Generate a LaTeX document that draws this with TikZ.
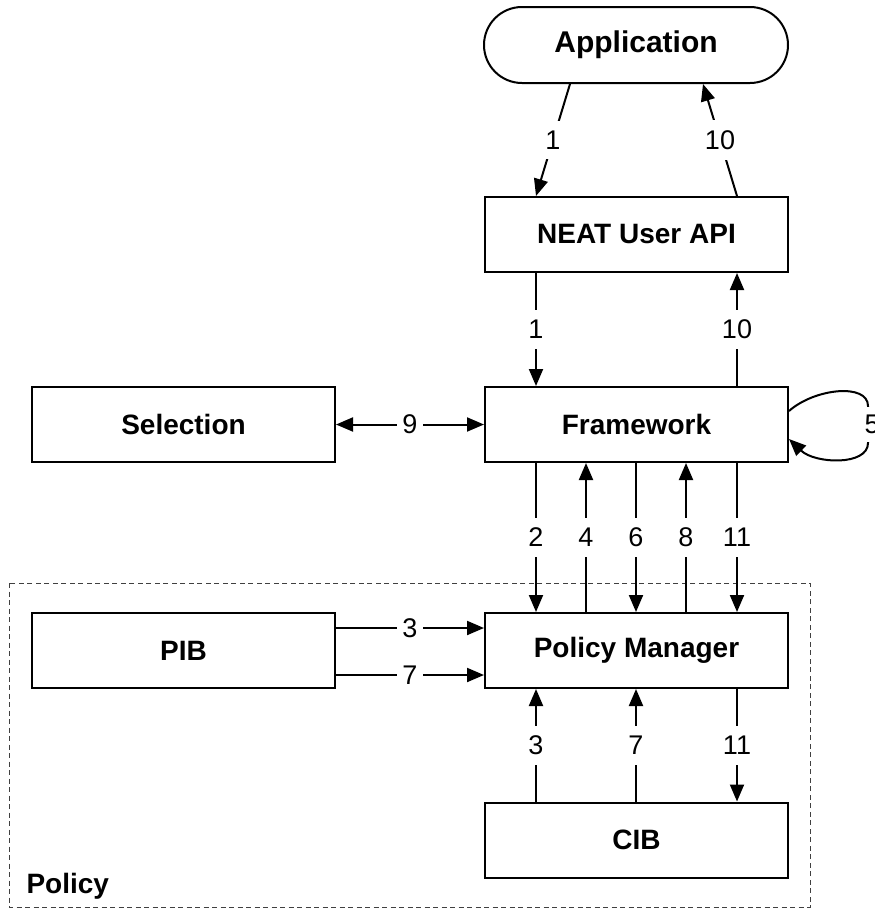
\documentclass[tikz,border=0pt]{standalone}
\usepackage{fontspec}
\setmainfont{Liberation Sans}
\usetikzlibrary{arrows.meta,shapes.misc}
\begin{document}
\begin{tikzpicture}[x=1pt,y=-1pt,
  box/.style={draw,line width=2pt,minimum width=303pt,minimum height=75pt,inner sep=0pt,font=\fontsize{28}{32}\selectfont\bfseries},
  arr/.style={line width=2pt,-{Triangle[length=17pt,width=14pt]}},
  darr/.style={line width=2pt,{Triangle[length=17pt,width=14pt]}-{Triangle[length=17pt,width=14pt]}},
  lbl/.style={fill=white,inner xsep=5pt,inner ysep=10pt,font=\fontsize{27}{32}\selectfont}]
\useasboundingbox (0,0) rectangle (875,908);
% policy region
\draw[line width=1pt,black!75,dash pattern=on 5pt off 3.5pt] (9,583) rectangle (810,907);
\node[anchor=base west,font=\fontsize{28}{32}\selectfont\bfseries] (pol) at (23,893) {Policy};
% nodes
\node[draw,line width=2pt,rounded rectangle,minimum width=304pt,minimum height=76pt,inner sep=0pt,font=\fontsize{30}{34}\selectfont\bfseries] (app) at (636,45) {Application};
\node[box] (api) at (636.5,234.5) {NEAT User API};
\node[box] (fw) at (636.5,424.5) {Framework};
\node[box] (sel) at (183.5,424.5) {Selection};
\node[box] (pm) at (636.5,650.5) {Policy Manager};
\node[box] (pib) at (183.5,650.5) {PIB};
\node[box] (cib) at (636.5,840) {CIB};
% application <-> api
\draw[arr] ([xshift=-66pt]app.south) -- node[lbl]{1} ([xshift=52pt]api.north west);
\draw[arr] ([xshift=253pt]api.north west) -- node[lbl]{10} ([xshift=67pt]app.south);
% api <-> framework
\draw[arr] ([xshift=52pt]api.south west) -- node[lbl]{1} ([xshift=52pt]fw.north west);
\draw[arr] ([xshift=253pt]fw.north west) -- node[lbl]{10} ([xshift=253pt]api.south west);
% selection <-> framework
\draw[darr] (sel.east) -- node[lbl,inner ysep=3pt]{9} (fw.west);
% self loop
\draw[arr] ([yshift=-25pt]fw.north east) .. controls (815,388) and (868,383) .. (868,406)
  -- node[lbl,inner xsep=2pt,inner ysep=8pt,xshift=4pt]{5} (868,443) .. controls (868,466) and (815,464) .. ([yshift=-53pt]fw.north east);
% framework <-> policy manager
\draw[arr] ([xshift=52pt]fw.south west) -- node[lbl]{2} ([xshift=52pt]pm.north west);
\draw[arr] ([xshift=102pt]pm.north west) -- node[lbl]{4} ([xshift=102pt]fw.south west);
\draw[arr] ([xshift=152pt]fw.south west) -- node[lbl]{6} ([xshift=152pt]pm.north west);
\draw[arr] ([xshift=202pt]pm.north west) -- node[lbl]{8} ([xshift=202pt]fw.south west);
\draw[arr] ([xshift=253pt]fw.south west) -- node[lbl]{11} ([xshift=253pt]pm.north west);
% pib -> pm
\draw[arr] ([yshift=-16pt]pib.north east) -- node[lbl,inner ysep=3pt]{3} ([yshift=-16pt]pm.north west);
\draw[arr] ([yshift=14pt]pib.south east) -- node[lbl,inner ysep=3pt]{7} ([yshift=14pt]pm.south west);
% cib <-> pm
\draw[arr] ([xshift=52pt]cib.north west) -- node[lbl]{3} ([xshift=52pt]pm.south west);
\draw[arr] ([xshift=152pt]cib.north west) -- node[lbl]{7} ([xshift=152pt]pm.south west);
\draw[arr] ([xshift=253pt]pm.south west) -- node[lbl]{11} ([xshift=253pt]cib.north west);
\end{tikzpicture}
\end{document}
